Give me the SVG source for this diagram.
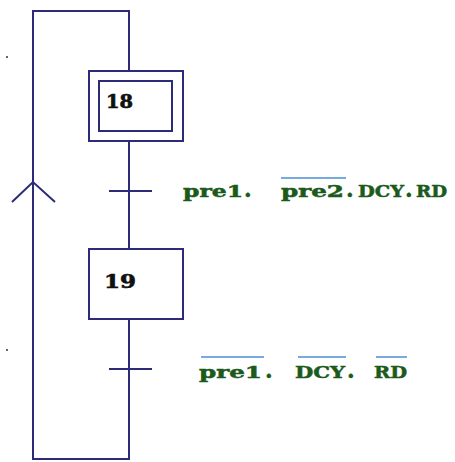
<svg xmlns="http://www.w3.org/2000/svg" width="455" height="462" viewBox="0 0 455 462">
  <style>
    .ln { fill: none; stroke: #2b2b78; stroke-width: 2; }
    .num { font-family: "DejaVu Serif", "Liberation Serif", serif; font-weight: bold; font-size: 18px; fill: #111; stroke: #111; stroke-width: 0.6; }
    .cond { font-family: "DejaVu Serif", "Liberation Serif", serif; font-weight: bold; font-size: 16px; fill: #1b5a1b; stroke: #1b5a1b; stroke-width: 0.5; }
    .dot { font-size: 22px; }
    .bar { stroke: #4a8fd6; stroke-width: 1.5; }
  </style>
  <rect width="455" height="462" fill="#ffffff"/>

  <!-- links and transitions -->
  <g id="connectors">
    <!-- loop back from bottom to top -->
    <polyline class="ln" points="129,319 129,459 33,459 33,11 129,11 129,71"/>
    <!-- step 18 to step 19 -->
    <line class="ln" x1="129" y1="141" x2="129" y2="249"/>
    <!-- direction arrow on return line -->
    <polyline class="ln" points="12,202 33,182 55,202"/>
    <!-- transition bars -->
    <line class="ln" x1="109" y1="191" x2="152" y2="191"/>
    <line class="ln" x1="109" y1="369" x2="152" y2="369"/>
  </g>

  <!-- initial step 18 -->
  <g id="step18">
    <rect class="ln" x="89" y="71" width="94" height="70"/>
    <rect class="ln" x="99" y="81" width="73" height="50"/>
    <text class="num" x="106" y="108" textLength="27" lengthAdjust="spacingAndGlyphs">18</text>
  </g>

  <!-- step 19 -->
  <g id="step19">
    <rect class="ln" x="89" y="249" width="94" height="70"/>
    <text class="num" x="104" y="288" textLength="32" lengthAdjust="spacingAndGlyphs">19</text>
  </g>

  <!-- receptivity of first transition -->
  <g id="cond1">
    <text class="cond" x="183" y="197" textLength="60" lengthAdjust="spacingAndGlyphs">pre1</text>
    <text class="cond dot" x="244" y="197">.</text>
    <text class="cond" x="281" y="197" textLength="63" lengthAdjust="spacingAndGlyphs">pre2</text>
    <text class="cond dot" x="346" y="197">.</text>
    <text class="cond" x="358" y="197" textLength="46" lengthAdjust="spacingAndGlyphs">DCY</text>
    <text class="cond dot" x="405" y="197">.</text>
    <text class="cond" x="416" y="197" textLength="31" lengthAdjust="spacingAndGlyphs">RD</text>
    <line class="bar" x1="281" y1="178" x2="346" y2="178"/>
  </g>

  <!-- receptivity of second transition -->
  <g id="cond2">
    <text class="cond" x="199" y="378" textLength="63" lengthAdjust="spacingAndGlyphs">pre1</text>
    <text class="cond dot" x="265" y="378">.</text>
    <text class="cond" x="295" y="378" textLength="50" lengthAdjust="spacingAndGlyphs">DCY</text>
    <text class="cond dot" x="347" y="378">.</text>
    <text class="cond" x="374" y="378" textLength="33" lengthAdjust="spacingAndGlyphs">RD</text>
    <line class="bar" x1="201" y1="357" x2="264" y2="357"/>
    <line class="bar" x1="298" y1="357" x2="346" y2="357"/>
    <line class="bar" x1="376" y1="357" x2="407" y2="357"/>
  </g>

  <!-- stray marks -->
  <circle cx="7" cy="57" r="1" fill="#333"/>
  <circle cx="7" cy="350" r="1" fill="#333"/>
</svg>
